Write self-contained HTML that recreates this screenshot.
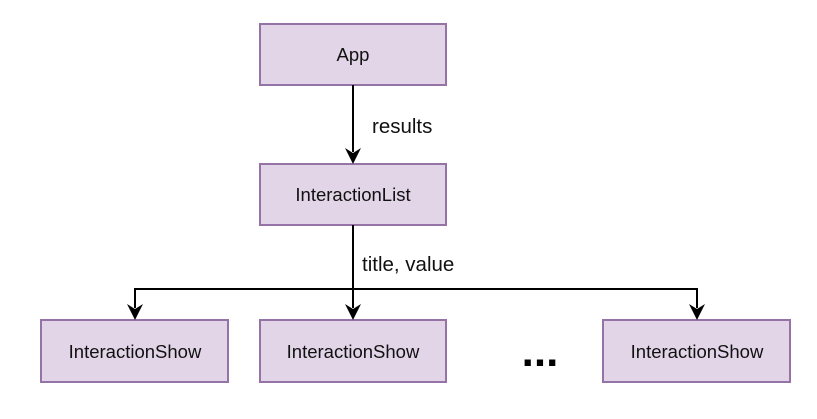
<!DOCTYPE html>
<html><head><style>body{margin:0;background:#fff}</style></head><body>
<svg width="817" height="414" xmlns="http://www.w3.org/2000/svg" font-family="Liberation Sans, sans-serif">
<g fill="#e1d5e7" stroke="#9673a6" stroke-width="2">
<rect x="260" y="24" width="186" height="61"/>
<rect x="260" y="164" width="186" height="61"/>
<rect x="41" y="320" width="187" height="62"/>
<rect x="260" y="320" width="186" height="62"/>
<rect x="603" y="320" width="187" height="62"/>
</g>
<g stroke="#000" stroke-width="2" fill="none">
<line x1="353" y1="85" x2="353" y2="152"/>
<line x1="353" y1="225" x2="353" y2="308"/>
<polyline points="135,308 135,289 697,289 697,308"/>
</g>
<g fill="#000">
<polygon points="345,148 353,164 361,148 353,153"/>
<polygon points="127,304 135,320 143,304 135,309"/>
<polygon points="345,304 353,320 361,304 353,309"/>
<polygon points="689,304 697,320 705,304 697,309"/>
</g>
<g font-size="18.5" text-anchor="middle" fill="#111">
<text x="353" y="61">App</text>
<text x="353" y="201">InteractionList</text>
<text x="135" y="358">InteractionShow</text>
<text x="353" y="358">InteractionShow</text>
<text x="697" y="358">InteractionShow</text>
</g>
<g font-size="20.5" fill="#111">
<text x="372" y="133">results</text>
<text x="362" y="271">title, value</text>
</g>
<text x="540" y="366" font-size="44" font-weight="bold" text-anchor="middle">...</text>
</svg>
</body></html>
